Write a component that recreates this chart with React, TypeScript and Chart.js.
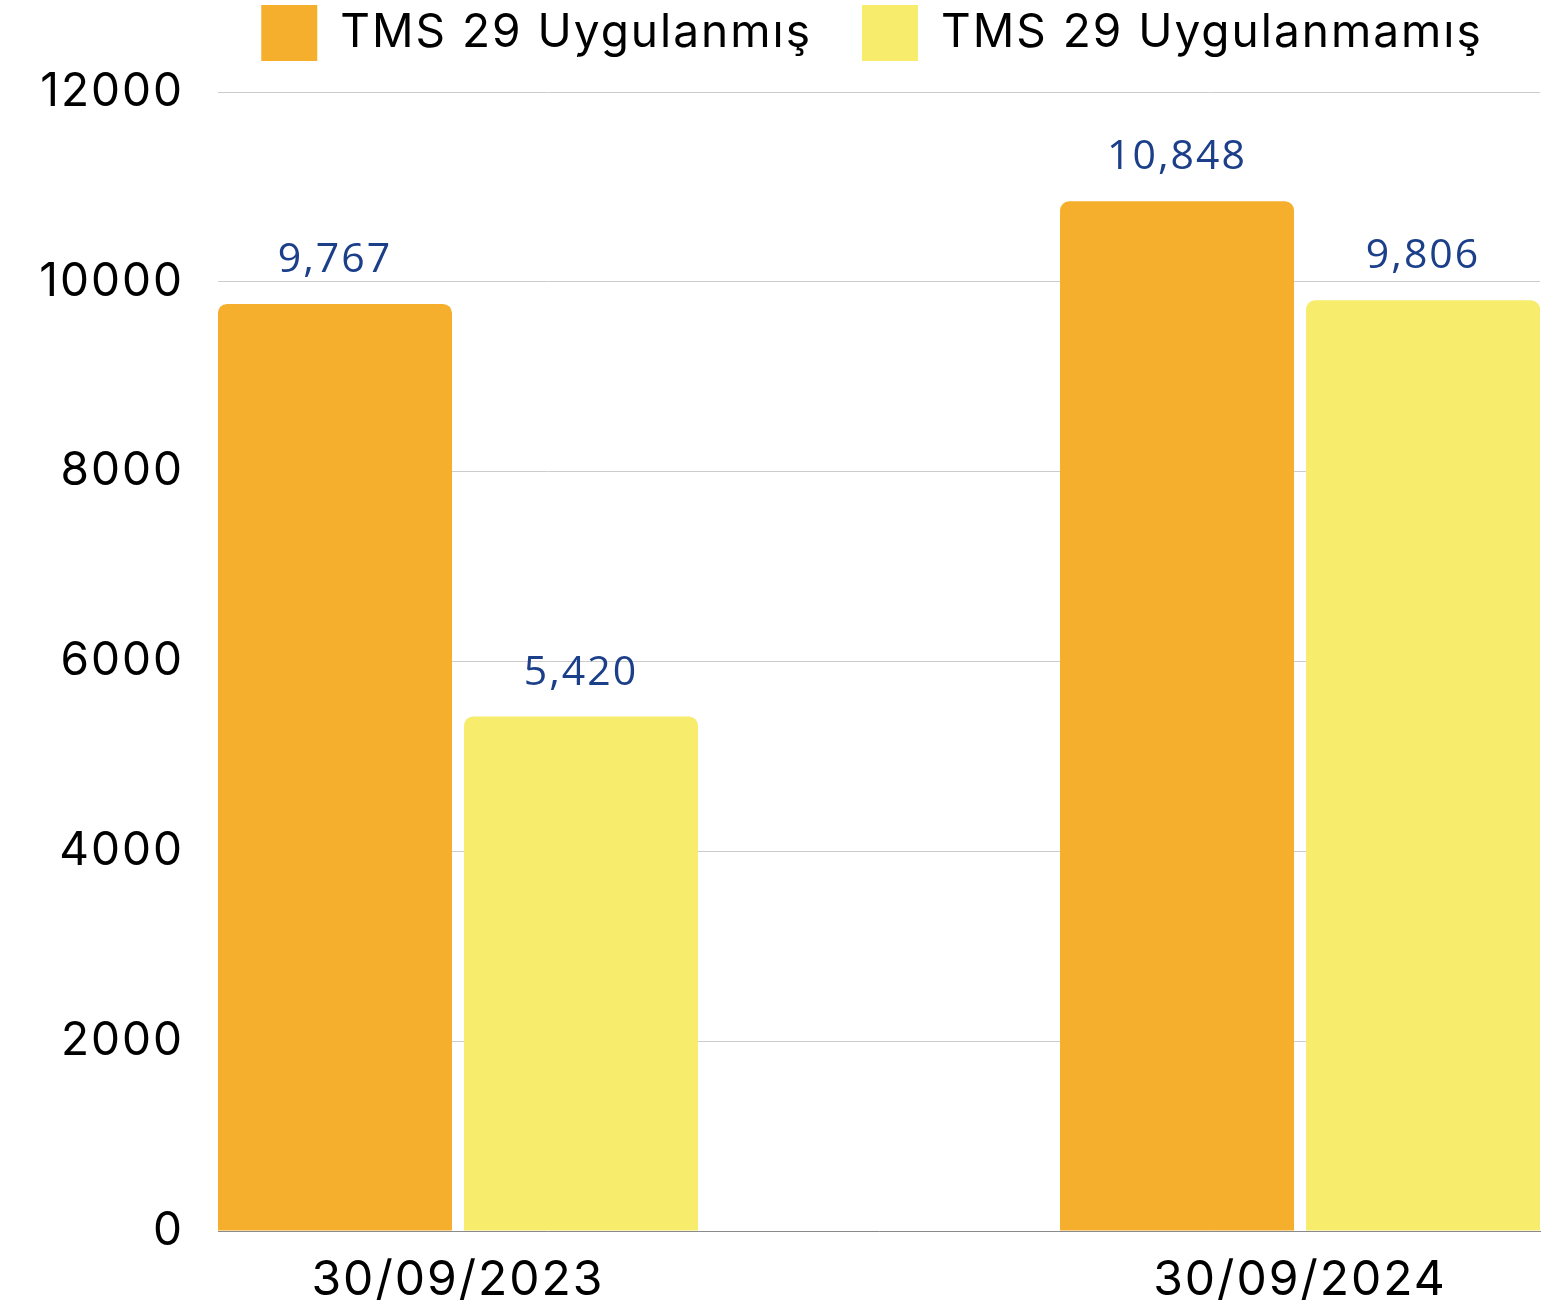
import React, { useEffect, useRef } from "react";
import { Chart, registerables } from "chart.js";

Chart.register(...registerables);

const categories = ["30/09/2023", "30/09/2024"];
const categoryPositions = [0, 1];
const seriesNames = ["TMS 29 Uygulanmış", "TMS 29 Uygulanmamış"];
const appliedValues = [9767, 10848];
const notAppliedValues = [5420, 9806];
const yTicks = [0, 2000, 4000, 6000, 8000, 10000, 12000];

const ORANGE = "#F6AE2D";
const YELLOW = "#F7EC6B";
const LABEL_BLUE = "#1C3F8A";
const FONT = "Inter, 'Noto Sans', sans-serif";

const spacing = {
  id: "spacing",
  beforeUpdate(chart: any) {
    chart.ctx.letterSpacing = "2px";
  },
  beforeDraw(chart: any) {
    chart.ctx.letterSpacing = "2px";
  },
};

const legendShift = {
  id: "legendShift",
  afterLayout(chart: any) {
    const lg = chart.legend;
    if (!lg) return;
    const ca = chart.chartArea;
    const target = (ca.left + ca.right) / 2 - 7;
    const dx = target - (lg.left + lg.right) / 2;
    lg.left += dx;
    lg.right += dx;
    const dy = -21;
    lg.top += dy;
    lg.bottom += dy;
  },
};

const valueLabels = {
  id: "valueLabels",
  afterDatasetsDraw(chart: any) {
    const ctx = chart.ctx;
    ctx.save();
    ctx.font = `41px 'Open Sans', sans-serif`;
    ctx.fillStyle = LABEL_BLUE;
    ctx.textAlign = "center";
    ctx.textBaseline = "alphabetic";
    chart.data.datasets.forEach((ds: any, di: number) => {
      const meta = chart.getDatasetMeta(di);
      meta.data.forEach((bar: any, i: number) => {
        const v = ds.data[i].y;
        ctx.fillText(v.toLocaleString("en-US"), bar.x, bar.y - 32);
      });
    });
    ctx.restore();
  },
};

export default function App() {
  const ref = useRef<HTMLCanvasElement | null>(null);
  useEffect(() => {
    document.body.style.margin = "0";
    const mk = (vals: number[]) => vals.map((v, i) => ({ x: categoryPositions[i], y: v }));
    const radius = { topLeft: 9, topRight: 9, bottomLeft: 0, bottomRight: 0 };
    const chart = new Chart(ref.current!, {
      type: "bar",
      data: {
        datasets: [
          {
            label: seriesNames[0],
            data: mk(appliedValues),
            backgroundColor: ORANGE,
            borderRadius: radius,
            borderSkipped: false,
          },
          {
            label: seriesNames[1],
            data: mk(notAppliedValues),
            backgroundColor: YELLOW,
            borderRadius: radius,
            borderSkipped: false,
          },
        ] as any,
      },
      options: {
        animation: false,
        responsive: false,
        maintainAspectRatio: false,
        categoryPercentage: 0.5843,
        barPercentage: 0.9512,
        layout: { padding: { left: 0, right: 9, top: -24, bottom: 0 } },
        plugins: {
          legend: {
            position: "top",
            align: "center",
            labels: {
              boxWidth: 56,
              boxHeight: 56,
              padding: 50,
              color: "#000",
              font: { family: FONT, size: 46 },
            },
          },
          tooltip: { enabled: false },
        },
        scales: {
          x: {
            type: "linear",
            offset: false,
            min: -0.285,
            max: 1.285,
            afterBuildTicks: (scale: any) => {
              scale.ticks = categoryPositions.map((v) => ({ value: v }));
            },
            afterFit: (scale: any) => {
              scale.height = 72;
            },
            ticks: {
              autoSkip: false,
              maxRotation: 0,
              padding: 21,
              color: "#000",
              font: { family: FONT, size: 48 },
              callback: (v: any) => {
                const idx = categoryPositions.indexOf(Number(v));
                return idx >= 0 ? categories[idx] : "";
              },
            },
            grid: { display: false, drawTicks: false },
            border: { display: true, color: "#8a8a8a", width: 1 },
          },
          y: {
            min: 0,
            max: 12000,
            afterBuildTicks: (scale: any) => {
              scale.ticks = yTicks.map((v) => ({ value: v }));
            },
            afterFit: (scale: any) => {
              scale.width = 218;
            },
            ticks: {
              padding: 34,
              color: "#000",
              font: { family: FONT, size: 46 },
              callback: (v: any) => String(v),
            },
            grid: { color: "#cccccc", lineWidth: 1, drawTicks: false },
            border: { display: false },
          },
        },
      },
      plugins: [spacing, legendShift, valueLabels],
    } as any);
    return () => chart.destroy();
  }, []);
  return (
    <div style={{ width: 1549, height: 1303 }}>
      <canvas ref={ref} width={1549} height={1303} style={{ display: "block" }} />
    </div>
  );
}
